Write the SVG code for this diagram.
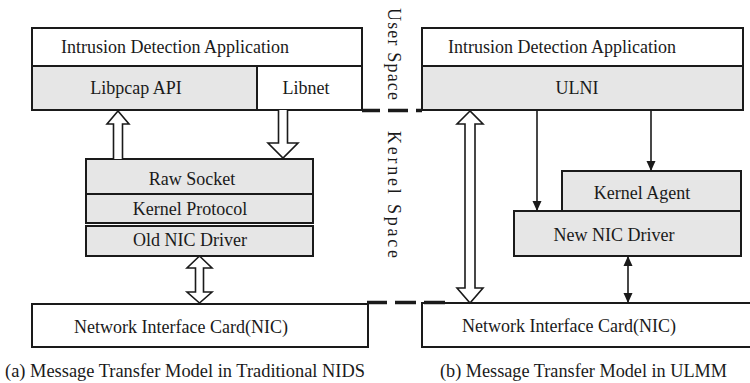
<svg xmlns="http://www.w3.org/2000/svg" width="750" height="383" viewBox="0 0 750 383">
<style>
text{font-family:"Liberation Serif","Times New Roman",serif;font-size:18px;fill:#1a1a1a}
.box{stroke:#1a1a1a;stroke-width:2;fill:#fff}
.g{fill:#e6e6e6}
.ha{fill:#fff;stroke:#1a1a1a;stroke-width:1.6;stroke-linejoin:miter}
.ln{stroke:#1a1a1a;stroke-width:1.6;fill:none}
.dash{stroke:#1a1a1a;stroke-width:3.5;fill:none}
.c{text-anchor:middle}
</style>
<defs>
<marker id="ah" viewBox="0 0 10 10" refX="10" refY="5" markerWidth="10" markerHeight="10" markerUnits="userSpaceOnUse" orient="auto-start-reverse">
<path d="M0,0.5 L10,5 L0,9.5 z" fill="#1a1a1a"/>
</marker>
</defs>
<g id="left-app"><rect class="box" x="32" y="28" width="330" height="38"/><text x="61" y="53">Intrusion Detection Application</text></g>
<g id="libpcap"><rect class="box g" x="32" y="66" width="225" height="44"/><text class="c" x="136" y="94">Libpcap API</text></g>
<g id="libnet"><rect class="box" x="257" y="66" width="105" height="44"/><text class="c" x="306" y="94">Libnet</text></g>
<g id="raw-socket"><rect class="box g" x="86" y="159" width="227" height="35"/><text class="c" x="192" y="185">Raw Socket</text></g>
<g id="kernel-protocol"><rect class="box g" x="86" y="194" width="227" height="29"/><text class="c" x="190" y="215">Kernel Protocol</text></g>
<g id="old-nic-driver"><rect class="box g" x="86" y="226" width="227" height="30"/><text class="c" x="190" y="246">Old NIC Driver</text></g>
<g id="left-nic"><rect class="box" x="32" y="304" width="336" height="43"/><text x="74" y="333">Network Interface Card(NIC)</text></g>
<g id="right-app"><rect class="box" x="422" y="28" width="321" height="38"/><text x="448" y="53">Intrusion Detection Application</text></g>
<g id="ulni"><rect class="box g" x="422" y="66" width="321" height="44"/><text class="c" x="577" y="94">ULNI</text></g>
<g id="kernel-agent"><rect class="box g" x="562" y="171" width="179" height="40"/><text class="c" x="642" y="199">Kernel Agent</text></g>
<g id="new-nic-driver"><rect class="box g" x="514" y="211" width="227" height="45"/><text class="c" x="614" y="241">New NIC Driver</text></g>
<g id="right-nic"><rect class="box" x="422" y="303" width="330" height="44"/><text x="462" y="332">Network Interface Card(NIC)</text></g>
<g id="labels">
<text x="388" y="8" transform="rotate(90 388 8)" textLength="92" lengthAdjust="spacing">User Space</text>
<text x="388" y="131" transform="rotate(90 388 131)" textLength="127" lengthAdjust="spacing">Kernel Space</text>
<text x="5" y="377" textLength="360" lengthAdjust="spacingAndGlyphs">(a) Message Transfer Model in Traditional NIDS</text>
<text x="440" y="377" textLength="287" lengthAdjust="spacingAndGlyphs">(b) Message Transfer Model in ULMM</text>
</g>
<g id="connectors">
<path class="dash" d="M362,110.5 H380 M388,110.5 H408 M416,110.5 H422"/>
<path class="dash" d="M367,302.5 H387 M395,302.5 H416 M424,302.5 H445"/>
<path class="ha" d="M113.5,159 V124 H107 L118,111 L129,124 H122.5 V159"/>
<path class="ha" d="M278.5,110 V143 H268 L283,158 L298,143 H287.5 V110"/>
<path class="ha" d="M199.5,256 L187,268 H195.5 V292 H187 L199.5,303 L212,292 H203.5 V268 H212 Z"/>
<path class="ha" d="M470,111 L457,124 H465 V288 H457 L470,303 L483,288 H475 V124 H483 Z"/>
<line class="ln" x1="537" y1="110" x2="537" y2="211" marker-end="url(#ah)"/>
<line class="ln" x1="651" y1="110" x2="651" y2="171" marker-end="url(#ah)"/>
<line class="ln" x1="628" y1="256" x2="628" y2="303" marker-start="url(#ah)" marker-end="url(#ah)"/>
</g>
</svg>
